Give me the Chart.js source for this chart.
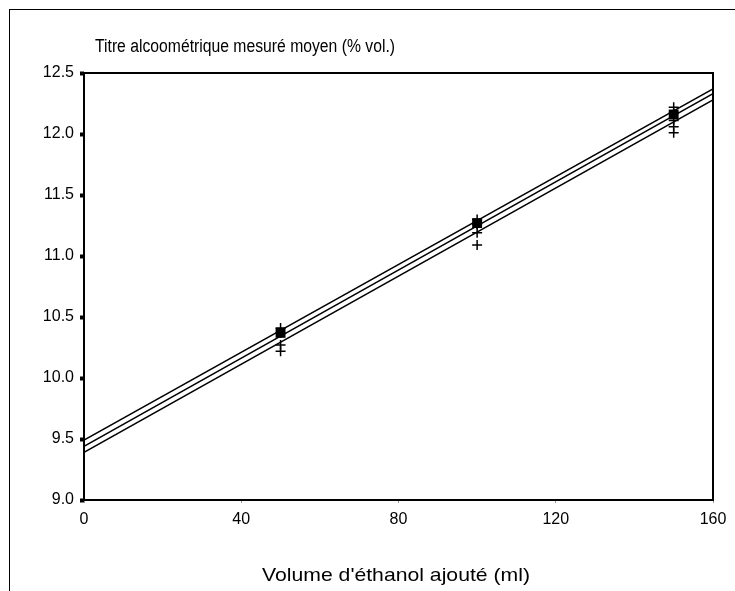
<!DOCTYPE html>
<html>
<head>
<meta charset="utf-8">
<script src="https://cdn.jsdelivr.net/npm/chart.js@4"></script>
<style>
    body { margin: 0; background: #fff; }
    #wrap { position: relative; width: 735px; height: 591px; overflow: hidden; }
    #frame { position: absolute; left: 9px; top: 9px; width: 800px; height: 700px; border-left: 1px solid #000; border-top: 1px solid #000; }
    canvas { position: absolute; left: 0; top: 0; }
</style>
</head>
<body>
<div id="wrap">
    <div id="frame"></div>
    <canvas id="titreChart" width="735" height="591"></canvas>
</div>
<script>
// volumes d'éthanol ajoutés (ml)
const volumes = [50, 100, 150];
// mesures individuelles (+)
const mesures50 = [10.41, 10.37, 10.27, 10.22];
const mesures100 = [11.30, 11.26, 11.19, 11.09];
const mesures150 = [12.22, 12.17, 12.11, 12.06, 12.01];
// moyennes (carrés pleins)
const moyennes = [10.37, 11.27, 12.16];
// droite de régression et bornes, aux extrémités x = 0 et x = 160
const droiteX = [0, 160];
const droiteHaute = [9.49, 12.37];
const droiteMoy = [9.44, 12.33];
const droiteBasse = [9.39, 12.28];
const yTicks = [9.0, 9.5, 10.0, 10.5, 11.0, 11.5, 12.0, 12.5];
const xTicks = [0, 40, 80, 120, 160];

const titreAxeY = 'Titre alcoométrique mesuré moyen (% vol.)';
const titreAxeX = "Volume d'éthanol ajouté (ml)";

function pts(xs, ys) {
    return xs.map((x, i) => ({ x: x, y: ys[i] }));
}

const crossPts = [].concat(
    mesures50.map(v => ({ x: volumes[0], y: v })),
    mesures100.map(v => ({ x: volumes[1], y: v })),
    mesures150.map(v => ({ x: volumes[2], y: v }))
);

function lineSet(ys) {
    return {
        type: 'line',
        data: pts(droiteX, ys),
        borderColor: '#000',
        borderWidth: 1.5,
        pointRadius: 0,
        fill: false,
        order: 2
    };
}

// texte étiré/compressé pour tenir dans une largeur donnée
function fitText(ctx, txt, x, y, w, align) {
    const m = ctx.measureText(txt).width;
    const k = w / m;
    ctx.save();
    ctx.translate(align === 'center' ? x - w / 2 : x, y);
    ctx.scale(k, 1);
    ctx.textAlign = 'left';
    ctx.fillText(txt, 0, 0);
    ctx.restore();
}

const texts = {
    id: 'texts',
    afterDraw(chart) {
        const ctx = chart.ctx;
        const a = chart.chartArea;
        ctx.save();
        ctx.strokeStyle = '#000';
        ctx.lineWidth = 2;
        ctx.strokeRect(a.left, a.top, a.right - a.left, a.bottom - a.top);
        ctx.fillStyle = '#000';
        ctx.textBaseline = 'alphabetic';
        ctx.font = '18px "Liberation Sans", Arial, sans-serif';
        fitText(ctx, titreAxeY, 95, 52, 300, 'left');
        ctx.font = '19px "Liberation Sans", Arial, sans-serif';
        fitText(ctx, titreAxeX, 396, 581, 268, 'center');
        ctx.restore();
    }
};

document.addEventListener('DOMContentLoaded', () => {
    const ctx = document.getElementById('titreChart').getContext('2d');
    new Chart(ctx, {
        type: 'scatter',
        data: {
            datasets: [
                lineSet(droiteHaute),
                lineSet(droiteMoy),
                lineSet(droiteBasse),
                {
                    data: crossPts,
                    pointStyle: 'cross',
                    pointRadius: 5,
                    borderColor: '#000',
                    borderWidth: 1.5,
                    order: 1
                },
                {
                    data: pts(volumes, moyennes),
                    pointStyle: 'rect',
                    pointRadius: 7,
                    backgroundColor: '#000',
                    borderColor: '#000',
                    borderWidth: 0,
                    order: 0
                }
            ]
        },
        options: {
            responsive: false,
            animation: false,
            events: [],
            layout: { padding: { top: 73, right: 22, left: 0, bottom: 0 } },
            plugins: { legend: { display: false }, tooltip: { enabled: false } },
            scales: {
                x: {
                    type: 'linear',
                    min: 0, max: 160,
                    afterBuildTicks: s => { s.ticks = xTicks.map(v => ({ value: v })); },
                    afterFit: s => { s.height = 91; },
                    border: { display: false },
                    grid: { drawOnChartArea: false, tickLength: 3, tickWidth: 1, color: '#999' },
                    ticks: { color: '#000', padding: 7, maxRotation: 0, font: { family: '"Liberation Sans", Arial', size: 16 } }
                },
                y: {
                    min: 9, max: 12.5,
                    afterBuildTicks: s => { s.ticks = yTicks.map(v => ({ value: v })); },
                    afterFit: s => { s.width = 84; },
                    border: { display: false },
                    grid: { drawOnChartArea: false, tickLength: 4, tickWidth: 4, color: '#000' },
                    ticks: { color: '#000', padding: 6, callback: v => v.toFixed(1), font: { family: '"Liberation Sans", Arial', size: 16 } }
                }
            }
        },
        plugins: [texts]
    });
});
</script>
</body>
</html>
